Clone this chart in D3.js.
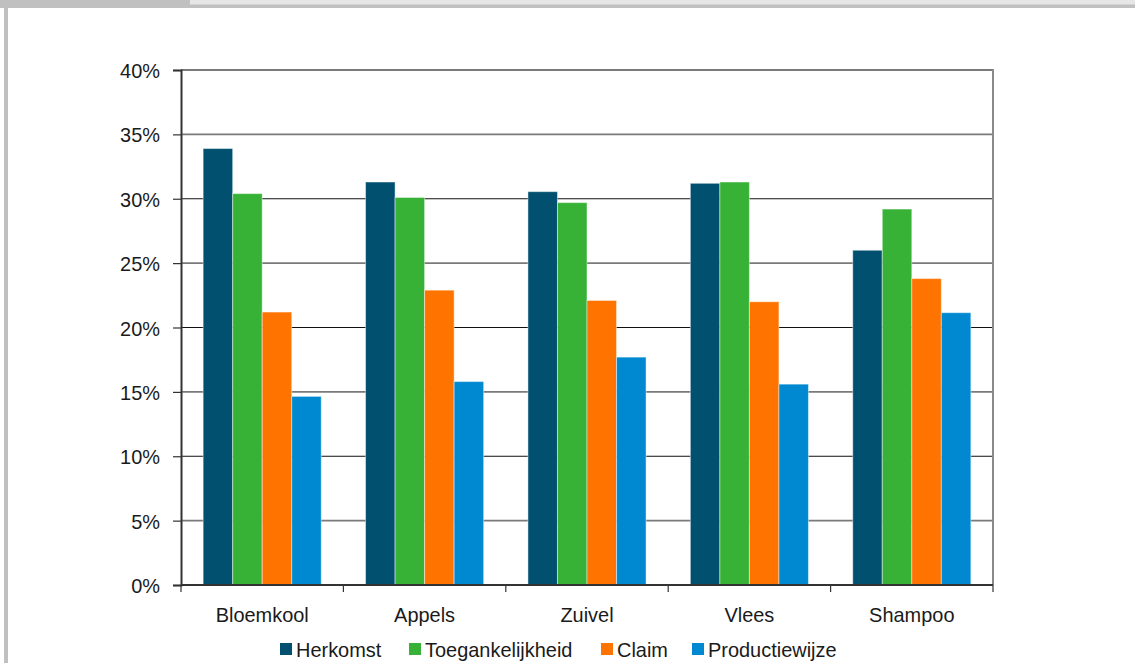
<!DOCTYPE html>
<html>
<head>
<meta charset="utf-8">
<script src="https://cdn.jsdelivr.net/npm/d3@7"></script>
<style>
  html, body { margin: 0; padding: 0; background: #fff; }
  svg { display: block; }
  text { font-family: "Liberation Sans", Arial, sans-serif; fill: #1a1a1a; }
</style>
</head>
<body>
<svg id="chart" width="1135" height="663"></svg>
<script>
// Product categories and the four aspects compared per product
const categories = ["Bloemkool", "Appels", "Zuivel", "Vlees", "Shampoo"];
const seriesNames = ["Herkomst", "Toegankelijkheid", "Claim", "Productiewijze"];
const seriesColors = ["#02506f", "#37b236", "#ff7300", "#0089d0"];

// Share per category (%), one array per aspect
const herkomst = [33.9, 31.3, 30.55, 31.2, 26.0];
const toegankelijkheid = [30.4, 30.1, 29.7, 31.3, 29.2];
const claim = [21.2, 22.9, 22.1, 22.0, 23.8];
const productiewijze = [14.65, 15.8, 17.7, 15.6, 21.15];

const yTicks = [0, 5, 10, 15, 20, 25, 30, 35, 40];

const seriesValues = [herkomst, toegankelijkheid, claim, productiewijze];

const FONT_SIZE = 21;
const NARROW = 0.95; // horizontal squeeze for a narrow typeface look

const svg = d3.select("#chart");
const W = 1135, H = 663;

// Page frame: header strip and left border
svg.append("rect").attr("x", 0).attr("y", 0).attr("width", W).attr("height", 8).attr("fill", "#c0c0c0");
svg.append("rect").attr("x", 190).attr("y", 0).attr("width", W - 190).attr("height", 4.5).attr("fill", "#e6e6e6");
svg.append("rect").attr("x", 4).attr("y", 0).attr("width", 4).attr("height", H).attr("fill", "#c0c0c0");

const plot = { left: 181, right: 993, top: 70, bottom: 585 };

const x = d3.scaleBand().domain(categories).range([plot.left, plot.right]).paddingInner(0).paddingOuter(0);
const y = d3.scaleLinear().domain([0, 40]).range([plot.bottom, plot.top]);

const groupWidth = x.bandwidth() * (4 / 5.5);
const xs = d3.scaleBand().domain(seriesNames).range([0, groupWidth]).padding(0);
const groupOffset = (x.bandwidth() - groupWidth) / 2;

// Horizontal gridlines
svg.append("g").selectAll("line").data(yTicks.filter(t => t > 0)).join("line")
  .attr("x1", plot.left).attr("x2", plot.right)
  .attr("y1", d => y(d)).attr("y2", d => y(d))
  .attr("stroke", d => (d % 10 === 0 && d !== 40) ? "#111" : "#7a7a7a")
  .attr("stroke-width", d => (d % 10 === 0 && d !== 40) ? 1 : 1.8);

// Right border of plot area
svg.append("line").attr("x1", plot.right).attr("x2", plot.right)
  .attr("y1", plot.top - 1).attr("y2", plot.bottom)
  .attr("stroke", "#8a8a8a").attr("stroke-width", 2);

// Bars
const rows = [];
seriesNames.forEach((s, i) => {
  categories.forEach((c, j) => rows.push({ cat: c, series: s, value: seriesValues[i][j], color: seriesColors[i] }));
});
svg.append("g").selectAll("rect").data(rows).join("rect")
  .attr("x", d => x(d.cat) + groupOffset + xs(d.series))
  .attr("y", d => y(d.value))
  .attr("width", xs.bandwidth())
  .attr("height", d => y(0) - y(d.value))
  .attr("fill", d => d.color)
  .attr("stroke", "rgba(255,255,255,0.45)")
  .attr("stroke-width", 1);

// Place a squeezed text label at (px, py)
function narrowText(sel, px, py) {
  sel.attr("x", 0).attr("y", 0)
    .attr("transform", (d, i) => `translate(${px(d, i)},${py(d, i)}) scale(${NARROW},1)`)
    .attr("font-size", FONT_SIZE);
}

// Y axis
const yAxis = d3.axisLeft(y).tickValues(yTicks).tickFormat(d => d + "%").tickSize(8).tickPadding(12);
const gy = svg.append("g").attr("transform", `translate(${plot.left},0)`).call(yAxis);
gy.select(".domain").attr("stroke", "#333").attr("stroke-width", 2);
gy.selectAll(".tick line").attr("stroke", "#333").attr("stroke-width", 1.2);
gy.selectAll(".tick text").attr("dy", null).attr("fill", "#1a1a1a")
  .call(narrowText, () => -21, () => 7.5)
  .style("font-family", "\"Liberation Sans\", Arial, sans-serif");

// X axis baseline with ticks at category boundaries
const gx = svg.append("g");
gx.append("line").attr("x1", plot.left).attr("x2", plot.right)
  .attr("y1", plot.bottom).attr("y2", plot.bottom).attr("stroke", "#333").attr("stroke-width", 2);
const boundaries = categories.map(c => x(c)).concat([plot.right]);
gx.selectAll("line.tick").data(boundaries).join("line").attr("class", "tick")
  .attr("x1", d => d).attr("x2", d => d)
  .attr("y1", plot.bottom).attr("y2", plot.bottom + 7)
  .attr("stroke", "#333").attr("stroke-width", 1.2);
gx.selectAll("text").data(categories).join("text")
  .attr("text-anchor", "middle")
  .call(narrowText, d => x(d) + x.bandwidth() / 2, () => 622)
  .text(d => d);

// Legend
const legendX = [280, 409, 601, 692];
const lg = svg.append("g").selectAll("g").data(seriesNames).join("g")
  .attr("transform", (d, i) => `translate(${legendX[i]},643)`);
lg.append("rect").attr("x", 0).attr("y", 0).attr("width", 12).attr("height", 12)
  .attr("fill", (d, i) => seriesColors[i]);
lg.append("text").call(narrowText, () => 16, () => 13.5).text(d => d);
</script>
</body>
</html>
